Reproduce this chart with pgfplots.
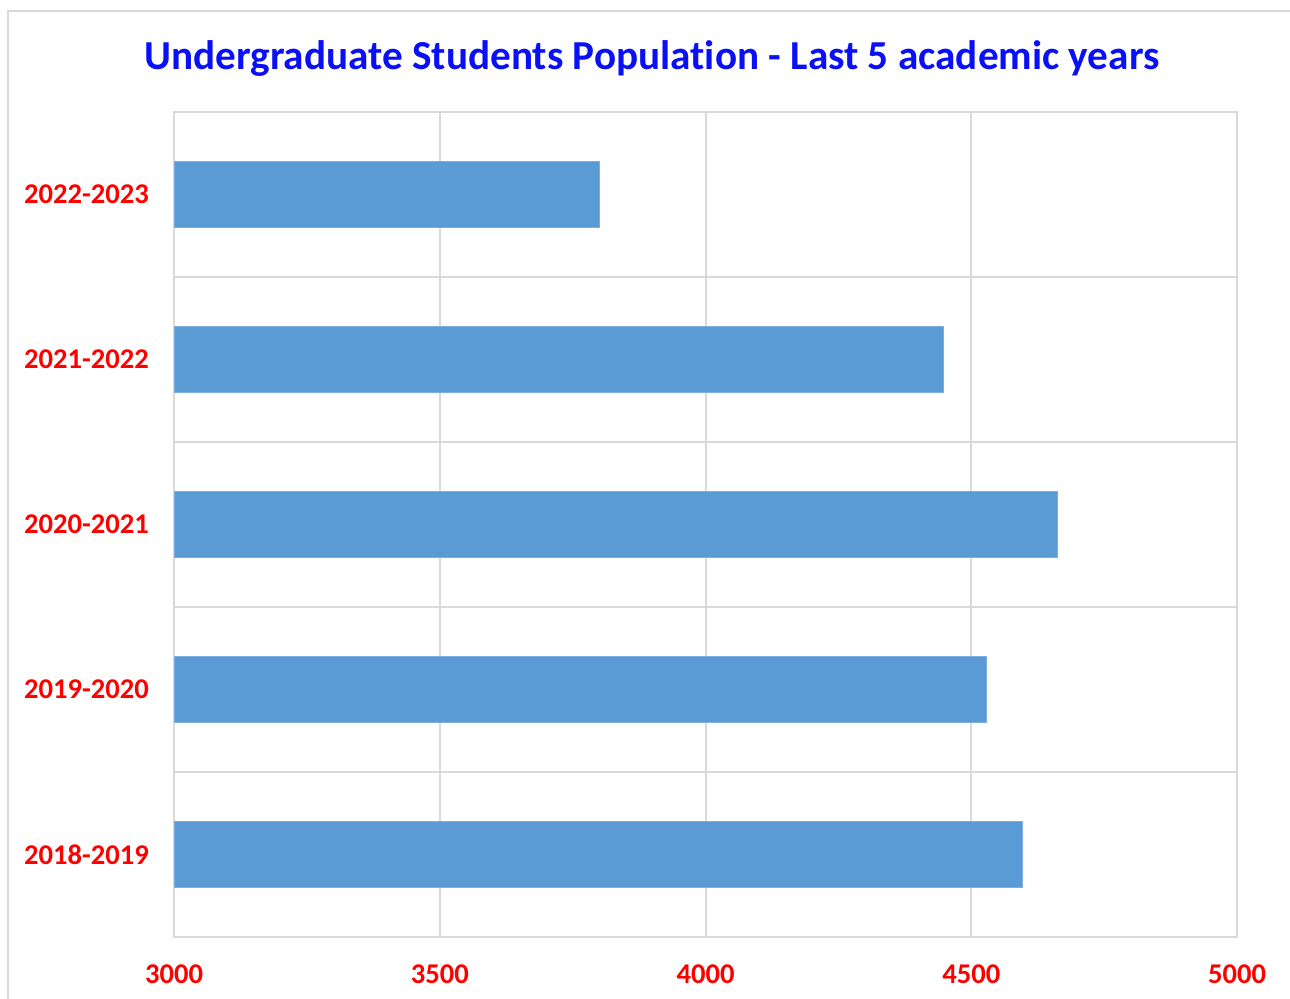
\documentclass[border=0pt]{standalone}
\usepackage{pgfplots}
\pgfplotsset{compat=1.18}
\usepackage{fontspec}
\setmainfont{Carlito}[Ligatures={NoCommon}]
\definecolor{barblue}{HTML}{5B9BD5}
\definecolor{gridgray}{HTML}{D9D9D9}
\definecolor{titleblue}{HTML}{0A10F5}
\definecolor{tickred}{HTML}{FF0000}
\begin{document}
\begin{tikzpicture}
\useasboundingbox (0,0) rectangle (645pt,-499.5pt);
\clip (0,0) rectangle (645pt,-499.5pt);
\draw[gridgray, line width=1pt] (4pt,-600pt) -- (4pt,-5.5pt) -- (700pt,-5.5pt);
\node[font=\bfseries\fontsize{20.6}{22}\selectfont, text=titleblue] at (326pt,-29.5pt) {Undergraduate Students Population - Last 5 academic years};
\begin{axis}[
    at={(87pt,-56pt)}, anchor=north west,
    scale only axis,
    width=531.5pt, height=412.5pt,
    xbar,
    bar width=33pt,
    xmin=3000, xmax=5000,
    ymin=-0.5, ymax=4.5,
    xtick={3000,3500,4000,4500,5000},
    ytick={0,1,2,3,4},
    yticklabels={2018-2019,2019-2020,2020-2021,2021-2022,2022-2023},
    minor ytick={0.5,1.5,2.5,3.5},
    xmajorgrids, yminorgrids,
    major grid style={gridgray, line width=1pt},
    minor grid style={gridgray, line width=1pt},
    axis line style={gridgray, line width=1pt},
    major tick length=0pt, minor tick length=0pt,
    tick label style={font=\bfseries\fontsize{14.3}{16}\selectfont, text=tickred},
    /pgf/number format/assume math mode=true,
    /pgf/number format/1000 sep={},
    yticklabel style={xshift=-9pt},
    xticklabel style={yshift=-10.5pt},
]
\addplot[fill=barblue, draw=barblue!80!white] coordinates {
    (4597,0) (4528,1) (4663,2) (4447,3) (3801,4)
};
\end{axis}
\end{tikzpicture}
\end{document}
